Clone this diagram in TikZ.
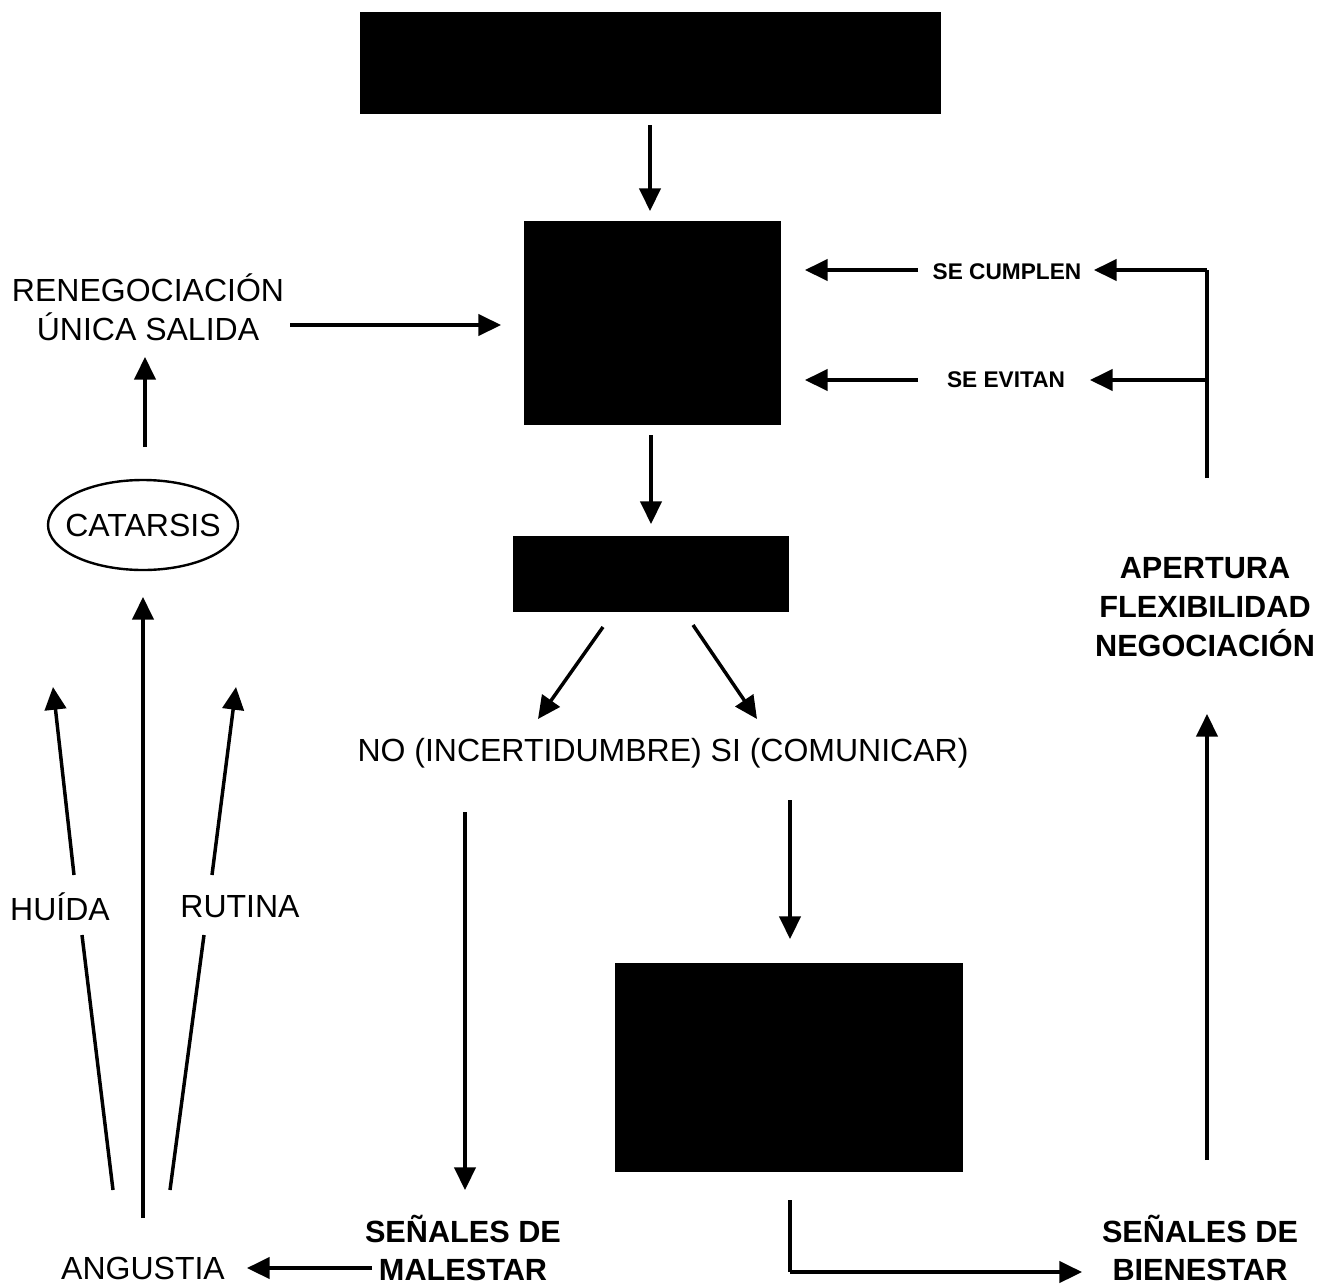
\documentclass[tikz,border=0pt]{standalone}
\usepackage{fontspec}
\setmainfont{Liberation Sans}
\usetikzlibrary{arrows.meta,shapes.geometric}
\begin{document}
\begin{tikzpicture}[x=0.75pt,y=-0.75pt,
  blk/.style={fill=black,draw=black,inner sep=0pt},
  arr/.style={line width=2.6pt,-{Triangle[length=17pt,width=16pt]}},
  ln/.style={line width=2.6pt},
  lbl/.style={font=\fontsize{24}{29}\selectfont,align=center,inner sep=0pt},
  blbl/.style={font=\bfseries\fontsize{23}{29}\selectfont,align=center,inner sep=0pt},
  slbl/.style={font=\bfseries\fontsize{17}{20}\selectfont,inner sep=0pt}]
\useasboundingbox (0,0) rectangle (1321,1285);
% black boxes
\node[blk,minimum width=435pt,minimum height=75.75pt] (b1) at (650,62.5) {};
\node[blk,minimum width=192pt,minimum height=152.25pt] (b2) at (652,322.5) {};
\node[blk,minimum width=206.25pt,minimum height=56.25pt] (b3) at (650.5,573.5) {};
\node[blk,minimum width=260.25pt,minimum height=156pt] (b4) at (788.5,1067) {};
% labels
\node[lbl] (reneg) at (148,307) {RENEGOCIACIÓN\\ÚNICA SALIDA};
\node[draw,ellipse,line width=1.8pt,inner xsep=-10pt,inner ysep=0pt,minimum width=142.5pt,minimum height=67.5pt,font=\fontsize{24}{29}\selectfont] (cat) at (143,525) {CATARSIS};
\node[lbl] (huida) at (60,907) {HUÍDA};
\node[lbl] (rutina) at (240,907) {RUTINA};
\node[lbl] (ang) at (143,1268) {ANGUSTIA};
\node[blbl] (mal) at (463,1248) {SEÑALES DE\\MALESTAR};
\node[blbl] (bien) at (1200,1248) {SEÑALES DE\\BIENESTAR};
\node[lbl] (nosi) at (663,753) {NO (INCERTIDUMBRE) SI (COMUNICAR)};
\node[blbl] (aper) at (1205,607) {APERTURA\\FLEXIBILIDAD\\NEGOCIACIÓN};
\node[slbl] (cump) at (1007,272) {SE CUMPLEN};
\node[slbl] (evit) at (1006,380) {SE EVITAN};
% coordinates
\coordinate (b1s) at (650,125);
\coordinate (b2n) at (650,211);
\coordinate (b2s) at (651,435);
\coordinate (b3n) at (651,524);
\coordinate (d1s) at (603,627);
\coordinate (d1e) at (538,719);
\coordinate (d2s) at (693,625);
\coordinate (d2e) at (757,719);
\coordinate (nos) at (465,812);
\coordinate (nose) at (465,1190);
\coordinate (sis) at (790,800);
\coordinate (sise) at (790,939);
\coordinate (b4s) at (790,1200);
\coordinate (corner) at (790,1272);
\coordinate (bienw) at (1082,1272);
\coordinate (aperup) at (1207,1160);
\coordinate (aperbot) at (1207,714);
\coordinate (rtop) at (1207,270);
\coordinate (rmid) at (1207,380);
\coordinate (rbot) at (1207,478);
\coordinate (cumpe) at (1094,270);
\coordinate (evite) at (1090,380);
\coordinate (cumpw) at (918,270);
\coordinate (evitw) at (918,380);
\coordinate (b2ea) at (805,270);
\coordinate (b2eb) at (805,380);
\coordinate (rens) at (290,325);
\coordinate (b2w) at (501,325);
\coordinate (cats) at (145,447);
\coordinate (rene) at (145,357);
\coordinate (hs) at (113,1190);
\coordinate (he) at (82,935);
\coordinate (hs2) at (74,875);
\coordinate (hend) at (53,687);
\coordinate (rs) at (170,1190);
\coordinate (re) at (204,935);
\coordinate (rs2) at (212,875);
\coordinate (rend) at (236,687);
\coordinate (cs) at (143,1218);
\coordinate (ce) at (143,597);
\coordinate (mals) at (372,1268);
\coordinate (ange) at (247,1268);
% connectors
\draw[arr] (b1s) -- (b2n);
\draw[arr] (b2s) -- (b3n);
\draw[arr] (d1s) -- (d1e);
\draw[arr] (d2s) -- (d2e);
\draw[arr] (nos) -- (nose);
\draw[arr] (sis) -- (sise);
\draw[ln] (b4s) -- (corner);
\draw[arr] (corner) -- (bienw);
\draw[arr] (aperup) -- (aperbot);
\draw[ln] (rbot) -- (rtop);
\draw[arr] (rtop) -- (cumpe);
\draw[arr] (rmid) -- (evite);
\draw[arr] (cumpw) -- (b2ea);
\draw[arr] (evitw) -- (b2eb);
\draw[arr] (rens) -- (b2w);
\draw[arr] (cats) -- (rene);
\draw[arr] (cs) -- (ce);
\draw[ln] (hs) -- (he);
\draw[arr] (hs2) -- (hend);
\draw[ln] (rs) -- (re);
\draw[arr] (rs2) -- (rend);
\draw[arr] (mals) -- (ange);
\end{tikzpicture}
\end{document}
